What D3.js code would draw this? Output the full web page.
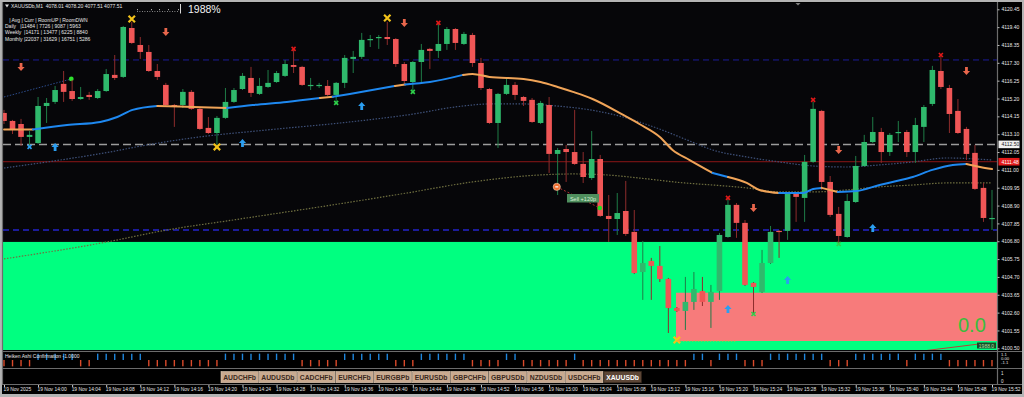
<!DOCTYPE html>
<html>
<head>
<meta charset="utf-8">
<script src="https://cdn.jsdelivr.net/npm/d3@7"></script>
<style>
  body { margin: 0; background: #000; }
  svg { display: block; font-family: "Liberation Sans", Arial, sans-serif; }
</style>
</head>
<body>
<svg id="chart" width="1024" height="397"></svg>
<script>
// ---- data (XAUUSDb M1, 13:56 .. 15:52) ----
const openP = [4114.35,4113.88,4113.70,4112.94,4112.58,4114.76,4115.00,4116.06,4115.64,4115.17,
  4115.41,4115.23,4115.64,4116.59,4116.47,4119.35,4118.35,4117.94,4116.82,4116.00,
  4114.82,4114.82,4115.59,4114.59,4113.47,4113.17,4114.06,4115.00,4115.76,4116.41,
  4115.47,4115.88,4116.17,4116.53,4117.17,4117.06,4115.94,4115.94,4115.94,4115.41,
  4116.12,4117.53,4117.65,4118.65,4118.76,4118.82,4118.70,4117.23,4116.17,4117.35,
  4118.12,4118.00,4118.41,4119.29,4118.41,4118.94,4117.29,4115.76,4113.76,4115.47,
  4116.00,4115.29,4115.12,4113.76,4114.82,4111.94,4112.23,4112.05,4111.35,4110.52,
  4111.64,4108.29,4108.11,4108.58,4107.35,4104.99,4105.64,4105.35,4104.58,4102.87,
  4102.70,4103.23,4103.87,4103.23,4103.87,4107.05,4108.94,4107.88,4104.35,4103.82,
  4105.52,4107.41,4107.41,4109.64,4109.35,4111.47,4114.47,4110.29,4108.41,4107.05,
  4109.11,4111.23,4112.64,4113.23,4112.05,4113.17,4113.23,4112.05,4113.53,4114.88,
  4116.82,4115.82,4114.47,4113.41,4112.00,4109.94,4108.11];
const highP = [4114.53,4113.94,4114.00,4113.29,4115.29,4115.23,4115.94,4116.82,4116.29,4115.88,
  4115.59,4115.76,4116.94,4117.76,4119.47,4119.71,4118.82,4118.35,4117.23,4116.12,
  4114.88,4115.76,4115.70,4114.64,4114.11,4114.17,4115.82,4115.82,4116.70,4117.06,
  4116.41,4116.88,4116.82,4117.47,4118.06,4117.12,4116.41,4116.12,4116.29,4116.17,
  4117.76,4118.00,4119.06,4118.94,4118.94,4119.71,4118.76,4117.35,4117.41,4118.41,
  4118.18,4119.65,4119.41,4119.35,4119.12,4119.06,4117.59,4115.82,4115.53,4116.35,
  4116.17,4115.35,4115.23,4115.06,4115.29,4112.29,4112.47,4114.53,4112.05,4113.29,
  4111.88,4109.52,4109.64,4110.35,4108.64,4106.82,4105.82,4106.52,4104.64,4102.93,
  4104.70,4104.99,4104.70,4104.23,4107.29,4109.41,4109.05,4108.05,4104.40,4106.29,
  4107.70,4107.46,4109.70,4109.70,4111.88,4115.00,4114.53,4110.64,4108.82,4109.58,
  4111.82,4113.06,4114.11,4113.47,4113.17,4113.88,4113.35,4114.06,4114.82,4117.12,
  4117.76,4116.00,4115.17,4113.53,4112.47,4110.23,4109.82];
const lowP = [4113.70,4113.11,4112.41,4112.41,4112.53,4113.76,4114.88,4115.00,4115.06,4115.12,
  4115.12,4115.17,4115.59,4116.29,4116.41,4118.41,4117.53,4116.76,4116.29,4114.76,
  4113.53,4114.64,4114.53,4113.35,4113.11,4112.47,4114.00,4114.94,4115.70,4115.29,
  4115.41,4115.82,4116.12,4116.47,4116.70,4115.94,4115.70,4115.82,4115.35,4115.00,
  4115.82,4116.70,4117.53,4118.23,4118.12,4118.35,4117.06,4116.00,4115.59,4116.17,
  4116.94,4117.59,4118.06,4118.06,4118.35,4117.06,4115.70,4113.70,4112.29,4115.41,
  4115.12,4114.76,4113.76,4113.70,4110.82,4109.52,4110.29,4111.29,4110.23,4110.41,
  4108.23,4106.76,4107.17,4107.11,4104.87,4103.35,4103.35,4104.40,4101.40,4102.64,
  4101.58,4102.76,4102.99,4101.70,4103.35,4107.00,4107.00,4104.17,4102.46,4103.76,
  4105.46,4105.82,4106.88,4107.94,4107.94,4111.41,4109.82,4108.23,4106.70,4107.00,
  4109.05,4111.17,4112.58,4111.41,4111.82,4112.64,4111.76,4111.41,4112.64,4114.76,
  4115.76,4113.17,4113.11,4111.58,4109.82,4107.94,4107.46];
const closeP = [4113.88,4113.35,4112.94,4113.06,4114.76,4114.94,4115.70,4115.59,4115.17,4115.29,
  4115.29,4115.64,4116.64,4116.41,4119.41,4118.47,4117.94,4116.82,4116.47,4114.82,
  4114.76,4115.59,4114.59,4113.41,4113.17,4114.06,4115.00,4115.70,4116.53,4115.53,
  4115.94,4116.12,4116.70,4117.23,4117.06,4116.00,4116.00,4116.00,4115.41,4116.12,
  4117.59,4117.65,4118.65,4118.70,4118.82,4118.70,4117.23,4116.23,4117.35,4118.06,
  4118.00,4118.41,4119.29,4118.47,4119.00,4117.29,4115.82,4113.76,4115.47,4116.00,
  4115.41,4115.06,4113.82,4114.94,4111.94,4112.17,4112.05,4111.35,4110.58,4111.64,
  4108.29,4108.11,4108.46,4107.23,4104.93,4105.52,4105.35,4104.58,4102.87,4102.70,
  4103.23,4103.99,4103.23,4103.82,4107.17,4108.94,4107.88,4104.23,4104.11,4105.52,
  4107.35,4107.35,4109.64,4109.41,4111.47,4114.59,4110.29,4108.35,4107.11,4109.17,
  4111.23,4112.64,4113.23,4112.05,4113.06,4113.23,4112.05,4113.64,4114.70,4116.88,
  4115.88,4114.29,4113.17,4111.94,4109.88,4108.17,4108.17];

// fast MA: [bar, price], and state of the segment that starts at each knot
const maBars = [0,3.4,7.4,11.3,13.3,15.1,18.0,22.2,26.2,29.2,33.2,37.1,38.6,40.6,45.9,47.1,50,53.9,55,57,
  61,63,65,66.8,69.1,72.7,74.6,77,78.5,80.5,83.2,85,87.2,88.7,91,93.8,95,96,97.9,100.1,
  102.8,104.8,106.7,109,111.4,113,114.6,116];
const maVals = [4113.38,4113.38,4113.64,4113.82,4114.11,4114.53,4114.76,4114.70,4114.64,4114.82,
  4115.00,4115.23,4115.30,4115.47,4115.94,4116.03,4116.17,4116.59,4116.64,4116.47,
  4116.35,4116.17,4115.88,4115.59,4115.17,4114.23,4113.70,4112.94,4112.17,4111.58,
  4110.82,4110.58,4110.23,4109.82,4109.64,4109.64,4109.88,4109.94,4109.70,4109.76,
  4110.11,4110.35,4110.58,4111.00,4111.29,4111.35,4111.17,4111.05];
const maState = ["d","u","u","u","u","u","d","d","u","u","u","d","u","u","d","u","u","d","d","d",
  "d","d","d","d","d","d","d","d","d","d","u","d","d","d","u","u","u","d","u","u",
  "u","u","u","u","u","d","d","d"];

const slowBars = [0,6.6,12.4,16.8,23,30.9,40.6,47.3,53.9,57,60.9,64.9,68.8,72.7,76.6,80.5,83.2,87.2,91,95,98.9,102.8,106.7,110.7,116];
const slowVals = [4111.11,4111.58,4112.05,4112.47,4112.94,4113.35,4113.82,4114.23,4114.76,4114.88,4114.88,4114.76,4114.53,4114.11,4113.47,4112.70,4112.17,4111.76,4111.47,4111.23,4111.17,4111.29,4111.47,4111.70,4111.58];

const longBars = [0,12.1,19.1,26.9,40,47.3,55,62.9,66.8,70.8,74.6,79.9,83.2,87.2,91.1,95,98.9,102.8,106.7,110.7,116];
const longVals = [4105.76,4106.76,4107.46,4108.05,4109.05,4109.64,4110.29,4110.70,4110.76,4110.70,4110.52,4110.23,4110.11,4109.94,4109.70,4109.70,4109.82,4110.00,4110.11,4110.23,4110.23];

// Heiken Ashi confirmation, per bar
const haDir = [-1,-1,-1,-1, 1,1,1,1,1, -1,-1, 1,1,1,1,1,1, -1,-1,-1,-1,-1,-1,-1,-1,-1,
  1,1,1,1,1,1,1,1,1, -1,-1,-1,-1,-1, 1,1,1,1,1,1, -1,-1,-1, 1,1,1,1,1,1, -1,-1,-1,-1,
  1,1, -1,-1,-1,-1,-1,-1, 1, -1,-1,-1,-1,-1,-1,-1,-1,-1,-1,-1,-1,-1, 1,1, -1, 1,1,1,
  -1,-1,-1, 1,1,1,1,1,1,1, -1,-1,-1, 1,1,1,1,1,1, -1, 1,1,1,1, -1,-1,-1,-1,-1,-1];

// signals [bar, price]
const sellArrows = [[2,4117.06],[19,4119.12],[47,4119.65],[88,4108.76],[98,4112.17],[113,4116.82]];
const buyArrows = [[6,4112.35],[28,4112.58],[42,4114.76],[85,4102.81],[92,4104.52],[102,4107.58]];
const bigCrosses = [[15,4119.88],[45,4119.94],[25,4112.35],[79,4100.99]];
const redMarks = [[34,4118.12],[51,4119.65],[85,4109.35],[95,4115.12],[110,4117.76]];
const greenMarks = [[39,4114.94],[48,4115.59],[88,4102.52],[98,4106.64]];
const blueMarks = [[3,4112.35]];

// levels and zones
const bluLevels = [4117.47, 4107.46];
const greyLevel = 4112.50;
const redLevel = 4111.48;
const greenZone = [4106.76, 4100.00];
const pinkZone = [78.9, 4103.77, 4100.93];

const priceTicks = [4120.45,4119.40,4118.35,4117.30,4116.25,4115.20,4114.15,4113.10,4112.05,4111.00,
  4109.95,4108.90,4107.85,4106.80,4105.75,4104.70,4103.65,4102.60,4101.55,4100.50];
const timeTickBars = d3.range(0, 117, 4);
const timeLabels = ["19 Nov 2025","19 Nov 14:00","19 Nov 14:04","19 Nov 14:08","19 Nov 14:12","19 Nov 14:16",
  "19 Nov 14:20","19 Nov 14:24","19 Nov 14:28","19 Nov 14:32","19 Nov 14:36","19 Nov 14:40","19 Nov 14:44",
  "19 Nov 14:48","19 Nov 14:52","19 Nov 14:56","19 Nov 15:00","19 Nov 15:04","19 Nov 15:08","19 Nov 15:12",
  "19 Nov 15:16","19 Nov 15:20","19 Nov 15:24","19 Nov 15:28","19 Nov 15:32","19 Nov 15:36","19 Nov 15:40",
  "19 Nov 15:44","19 Nov 15:48","19 Nov 15:52"];
const symbols = ["AUDCHFb","AUDUSDb","CADCHFb","EURCHFb","EURGBPb","EURUSDb","GBPCHFb","GBPUSDb","NZDUSDb","USDCHFb","XAUUSDb"];
const infoRows = ["   | Avg | Curr | RoomUP | RoomDWN",
  "Daily   |11484 | 7726 | 9087 | 5963",
  "Weekly  |14171 | 13477 | 6225 | 8840",
  "Monthly |22037 | 31629 | 16751 | 5286"];

// ---- layout ----
const plotL = 3, plotR = 997, plotT = 3, plotB = 351;
const svg = d3.select("#chart");

const x = d3.scaleLinear().domain([0, 116]).range([4, 992]);
const y = d3.scaleLinear().domain([4100.50, 4120.45]).range([348.3, 9.3]);
const yHA = d3.scaleLinear().domain([-1.1, 1.1]).range([367, 353]);

// frame
svg.append("rect").attr("width", 1024).attr("height", 397).attr("fill", "#b4b4b4");
svg.append("rect").attr("x", 2).attr("y", 2).attr("width", 1020).attr("height", 392).attr("fill", "#000");
svg.append("rect").attr("x", plotL).attr("y", plotT).attr("width", plotR - plotL).attr("height", plotB - plotT).attr("fill", "#060609");

svg.append("defs").append("clipPath").attr("id", "plot")
  .append("rect").attr("x", plotL).attr("y", plotT).attr("width", plotR - plotL).attr("height", plotB - plotT - 1);

const g = svg.append("g").attr("clip-path", "url(#plot)");

// zones
g.append("rect")
  .attr("x", plotL).attr("width", plotR - plotL)
  .attr("y", y(greenZone[0])).attr("height", y(greenZone[1]) - y(greenZone[0]))
  .attr("fill", "#00ff80");
g.append("rect")
  .attr("x", x(pinkZone[0])).attr("width", plotR - x(pinkZone[0]))
  .attr("y", y(pinkZone[1])).attr("height", y(pinkZone[2]) - y(pinkZone[1]))
  .attr("fill", "#f77b7b");

// horizontal levels
bluLevels.forEach((v, k) => {
  g.append("line").attr("x1", plotL).attr("x2", plotR).attr("y1", y(v)).attr("y2", y(v))
    .attr("stroke", "#1c1c9a").attr("stroke-width", k ? 2 : 1).attr("stroke-dasharray", "6,4");
});
g.append("line").attr("x1", plotL).attr("x2", plotR).attr("y1", y(greyLevel)).attr("y2", y(greyLevel))
  .attr("stroke", "#9c9c9c").attr("stroke-width", 1.5).attr("stroke-dasharray", "8,4");
g.append("line").attr("x1", plotL).attr("x2", plotR).attr("y1", y(redLevel)).attr("y2", y(redLevel))
  .attr("stroke", "#8c1616").attr("stroke-width", 1);

// slow moving averages (dotted)
const curve = d3.line().x(d => x(d[0])).y(d => y(d[1])).curve(d3.curveMonotoneX);
g.append("path").attr("d", curve(d3.zip(slowBars, slowVals)))
  .attr("fill", "none").attr("stroke", "#3e5078").attr("stroke-width", 1.2).attr("stroke-dasharray", "1.5,1.5");
g.append("path").attr("d", curve(d3.zip(longBars, longVals)))
  .attr("fill", "none").attr("stroke", "#707040").attr("stroke-width", 1.2).attr("stroke-dasharray", "1.5,1.5");

// small trend line top left
g.append("line").attr("x1", x(0)).attr("y1", y(4115.29)).attr("x2", x(7.9)).attr("y2", y(4116.35))
  .attr("stroke", "#2c4c8c").attr("stroke-dasharray", "1.5,1.5");
g.append("circle").attr("cx", x(7.9)).attr("cy", y(4116.35)).attr("r", 2.4).attr("fill", "#2ee02e");

// candles
const bars = openP.map((o, i) => ({ i, o, h: highP[i], l: lowP[i], c: closeP[i], up: closeP[i] >= o }));
const cw = 5.6;
g.selectAll(".wick").data(bars).enter().append("line")
  .attr("x1", d => x(d.i)).attr("x2", d => x(d.i))
  .attr("y1", d => y(d.h)).attr("y2", d => y(d.l))
  .attr("stroke", d => d.up ? "#1f7c47" : "#8e2c2c").attr("stroke-width", 1);
g.selectAll(".body").data(bars).enter().append("rect")
  .attr("x", d => x(d.i) - cw / 2).attr("width", cw)
  .attr("y", d => y(Math.max(d.o, d.c)))
  .attr("height", d => Math.max(1.2, Math.abs(y(d.o) - y(d.c))))
  .attr("fill", d => d.up ? "#2fb96c" : "#ef5656");

// fast MA, coloured by state
let start = 0;
for (let k = 1; k < maBars.length; k++) {
  if (k === maBars.length - 1 || maState[k] !== maState[start]) {
    const pts = d3.range(start, k + 1).map(j => [maBars[j], maVals[j]]);
    g.append("path").attr("d", curve(pts)).attr("fill", "none")
      .attr("stroke", maState[start] === "u" ? "#1e88f0" : "#f0a458")
      .attr("stroke-width", 2).attr("stroke-linecap", "round");
    start = k;
  }
}

// markers
const upArrow = "M0,-4 L3.6,0 L1.4,0 L1.4,4 L-1.4,4 L-1.4,0 L-3.6,0 Z";
const downArrow = "M0,4 L3.6,0 L1.4,0 L1.4,-4 L-1.4,-4 L-1.4,0 L-3.6,0 Z";
g.selectAll(".sell").data(sellArrows).enter().append("path")
  .attr("d", downArrow).attr("transform", d => `translate(${x(d[0])},${y(d[1])})`).attr("fill", "#e8664c");
g.selectAll(".buy").data(buyArrows).enter().append("path")
  .attr("d", upArrow).attr("transform", d => `translate(${x(d[0])},${y(d[1])})`).attr("fill", "#2b9ef0");

function cross(sel, data, size, color, width) {
  sel.selectAll(null).data(data).enter().append("path")
    .attr("d", `M${-size},${-size}L${size},${size}M${size},${-size}L${-size},${size}`)
    .attr("transform", d => `translate(${x(d[0])},${y(d[1])})`)
    .attr("stroke", color).attr("stroke-width", width).attr("fill", "none");
}
cross(g, bigCrosses, 3.2, "#f2c21a", 2.2);
cross(g, redMarks, 2, "#e01818", 1.6);
cross(g, greenMarks, 2, "#2ed04a", 1.6);
cross(g, blueMarks, 2, "#2b9ef0", 1.6);

// closed sell trade
g.append("line").attr("x1", x(64.9)).attr("y1", y(4110.00)).attr("x2", x(69.95)).attr("y2", y(4108.76))
  .attr("stroke", "#b03030").attr("stroke-dasharray", "2,2");
g.append("circle").attr("cx", x(64.9)).attr("cy", y(4110.00)).attr("r", 3.6)
  .attr("fill", "#f07232").attr("stroke", "#ffd0b0").attr("stroke-width", 0.6);
g.append("rect").attr("x", x(64.9) - 1.5).attr("y", y(4110.00) - 0.6).attr("width", 3).attr("height", 1.2).attr("fill", "#fff");
g.append("circle").attr("cx", x(69.95)).attr("cy", y(4108.76)).attr("r", 2.3).attr("fill", "#22dd22");
g.append("rect").attr("x", 567).attr("y", 194).attr("width", 32).attr("height", 8.5).attr("fill", "#4f8f5e");
g.append("text").attr("x", 583).attr("y", 200.6).attr("text-anchor", "middle")
  .attr("font-size", 5.5).attr("fill", "#d8efd8").text("Sell +120p");

// bottom trend lines
g.append("line").attr("x1", x(79)).attr("y1", y(4100.93)).attr("x2", x(86)).attr("y2", y(4100.93))
  .attr("stroke", "#e0a040").attr("stroke-dasharray", "1.5,1.5");
g.append("line").attr("x1", x(108.3)).attr("y1", y(4100.37)).attr("x2", x(115.4)).attr("y2", y(4100.81))
  .attr("stroke", "#b04838");

// value text bottom right
svg.append("text").attr("x", 958).attr("y", 332).attr("font-size", 20).attr("fill", "#3cbc3c").text("0.0");
svg.append("rect").attr("x", 977).attr("y", 342.5).attr("width", 19).attr("height", 6).attr("fill", "#184a26");
svg.append("text").attr("x", 986.5).attr("y", 347.6).attr("text-anchor", "middle").attr("font-size", 5)
  .attr("fill", "#a8e8a8").text("1988.0");

// header texts
svg.append("path").attr("d", "M5,4.5L9,4.5L7,7.5Z").attr("fill", "#ddd");
svg.append("text").attr("x", 11).attr("y", 8).attr("font-size", 5).attr("fill", "#e6e6e6")
  .attr("xml:space", "preserve").text("XAUUSDb,M1  4078.01 4078.20 4077.51 4077.51");
infoRows.forEach((r, k) => {
  svg.append("text").attr("x", 5).attr("y", 21.5 + k * 6.4).attr("font-size", 5).attr("fill", "#e6e6e6")
    .attr("xml:space", "preserve").text(r);
});
svg.append("line").attr("x1", 137).attr("x2", 178).attr("y1", 11.5).attr("y2", 11.5)
  .attr("stroke", "#cfcfcf").attr("stroke-width", 0.8).attr("stroke-dasharray", "0.8,1.7");
[137, 151, 159, 168, 178].forEach(px => {
  svg.append("rect").attr("x", px).attr("y", 9).attr("width", 0.8).attr("height", 1.2).attr("fill", "#cfcfcf");
});
svg.append("line").attr("x1", 180.5).attr("x2", 180.5).attr("y1", 4).attr("y2", 13.5).attr("stroke", "#d8d8d8");
svg.append("text").attr("x", 188).attr("y", 13).attr("font-size", 10.5).attr("fill", "#f2f2f2").text("1988%");
svg.append("path").attr("d", "M795.5,3L800.5,3L798,5.5Z").attr("fill", "#808080");

// window separators
const sep = svg.append("g").attr("stroke", "#6c6c6c").attr("stroke-width", 1.2);
[351.5, 368.5, 384.5].forEach(v => sep.append("line").attr("x1", 2).attr("x2", 1022).attr("y1", v).attr("y2", v));
sep.append("line").attr("x1", plotR + 0.5).attr("x2", plotR + 0.5).attr("y1", 2).attr("y2", 385);
sep.append("line").attr("x1", 2.5).attr("x2", 2.5).attr("y1", 2).attr("y2", 385);

// price axis
const yAxis = d3.axisRight(y).tickValues(priceTicks).tickSize(2).tickFormat(d3.format(".2f"));
const ya = svg.append("g").attr("transform", `translate(${plotR + 0.5},0)`).call(yAxis);
ya.select(".domain").remove();
ya.selectAll("line").attr("stroke", "#bbb");
ya.selectAll("text").attr("font-size", 5).attr("fill", "#e8e8e8").attr("x", 4).attr("font-family", "Liberation Sans");

// price boxes
function priceBox(v, bg, fg) {
  svg.append("rect").attr("x", 998.5).attr("y", y(v) - 3.8).attr("width", 21).attr("height", 7.6).attr("fill", bg);
  svg.append("text").attr("x", 1001.5).attr("y", y(v) + 1.8).attr("font-size", 5).attr("fill", fg).text(v.toFixed(2));
}
priceBox(greyLevel, "#f0f0f0", "#202020");
priceBox(redLevel, "#e31b1b", "#ffffff");

// Heiken Ashi confirmation window
svg.append("g").selectAll("line").data(haDir).enter().append("line")
  .attr("x1", (d, i) => x(i)).attr("x2", (d, i) => x(i))
  .attr("y1", yHA(0)).attr("y2", d => yHA(d))
  .attr("stroke", d => d > 0 ? "#1e86dc" : "#dc4a2a").attr("stroke-width", 1.4);
svg.append("text").attr("x", 5).attr("y", 358).attr("font-size", 5).attr("fill", "#e6e6e6")
  .text("Heiken Ashi Confirmation -1.0000");
[["1.1", 355.5], ["0.00", 359.5], ["-1.1", 364]].forEach(t => {
  svg.append("text").attr("x", 1001).attr("y", t[1]).attr("font-size", 4.2).attr("fill", "#e0e0e0").text(t[0]);
});
[["1", 374.5], ["0", 383]].forEach(t => {
  svg.append("text").attr("x", 1001).attr("y", t[1]).attr("font-size", 4.5).attr("fill", "#e0e0e0").text(t[0]);
});

// symbol buttons
const btn = svg.append("g");
symbols.forEach((s, k) => {
  const last = k === symbols.length - 1;
  const bx = 221 + k * 38.3;
  btn.append("rect").attr("x", bx).attr("y", 371.5).attr("width", 37.3).attr("height", 11.2)
    .attr("fill", last ? "#5c4636" : "#c9aa90").attr("stroke", last ? "#3c2c20" : "#e2ccb6").attr("stroke-width", 0.6);
  btn.append("text").attr("x", bx + 18.6).attr("y", 379.8).attr("text-anchor", "middle")
    .attr("font-size", 6.8).attr("font-weight", "bold").attr("fill", last ? "#ffffff" : "#3b2a1e").text(s);
});

// time axis
const xAxis = d3.axisBottom(x).tickValues(timeTickBars).tickSize(2).tickFormat((d, k) => timeLabels[k]);
const xa = svg.append("g").attr("transform", "translate(0,385)").call(xAxis);
xa.select(".domain").remove();
xa.selectAll("line").attr("stroke", "#ccc");
xa.selectAll("text").attr("font-size", 4.9).attr("fill", "#e4e4e4").attr("text-anchor", "start")
  .attr("x", -1).attr("y", 2.4).attr("dy", "0.71em").attr("font-family", "Liberation Sans");
</script>
</body>
</html>
